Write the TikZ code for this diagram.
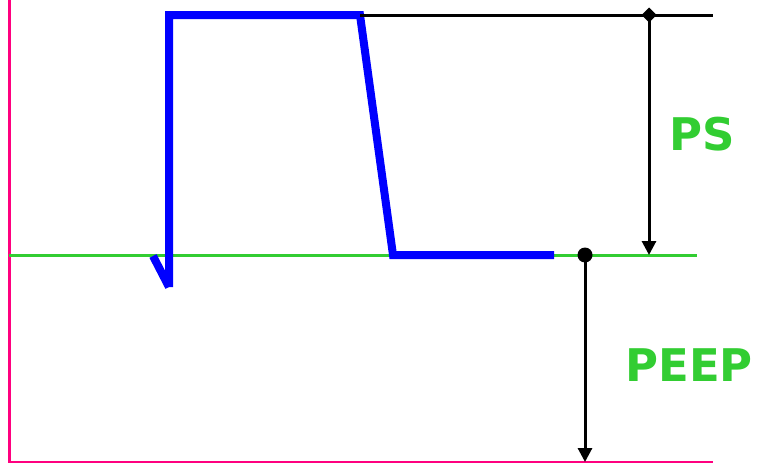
\documentclass[tikz,border=0pt]{standalone}
\usepackage{fontspec}
\setmainfont{DejaVu Sans}
\usetikzlibrary{arrows.meta,calc}
\definecolor{peepgreen}{RGB}{50,205,50}
\definecolor{axispink}{RGB}{255,0,127}
\tikzset{
    axisline/.style={axispink, line width=3pt},
    baseline/.style={peepgreen, line width=3pt},
    pressure/.style={blue, line width=8pt, line join=miter},
    measure/.style={black, line width=3pt},
    label/.style={text=peepgreen, font=\fontsize{45}{45}\selectfont\bfseries, inner sep=0pt}
}

\begin{document}
\begin{tikzpicture}[x=1pt, y=-1pt]
    \useasboundingbox (0,0) rectangle (758,463);

    % Axes and PEEP level
    \coordinate (O) at (9,462);
    \draw[axisline] (9,0) -- (O) -- (713,462) coordinate (E);
    \draw[baseline] (9,255) coordinate (G0) -- (697,255) coordinate (G1);

    % Pressure curve
    \coordinate (T) at (153,256);
    \coordinate (D) at (169,287);
    \draw[pressure] (T) -- (D);
    \draw[pressure] (D) -- (169,15) coordinate (U)
        -- (360,15) coordinate (R) -- (393,255) coordinate (F) -- (554,255) coordinate (Z);

    % Top level line
    \draw[measure] (R) -- (713,15) coordinate (K);

    % PS arrow
    \coordinate (A) at (649,15);
    \coordinate (B) at (649,255);
    \draw[measure, -{Triangle[length=14pt, width=14pt]}] (A) -- (B);
    \fill ($(A)+(7.5,0)$) -- ($(A)+(0,7.5)$) -- ($(A)+(-7.5,0)$) -- ($(A)+(0,-7.5)$) -- cycle;
    \node[label] (ps) at (702,134) {PS};

    % PEEP arrow
    \coordinate (P) at (585,255);
    \coordinate (Q) at (585,462);
    \draw[measure, -{Triangle[length=14pt, width=14pt]}] (P) -- (Q);
    \fill (P) circle (7.5);
    \node[label] (peep) at (689,365) {PEEP};
\end{tikzpicture}
\end{document}
